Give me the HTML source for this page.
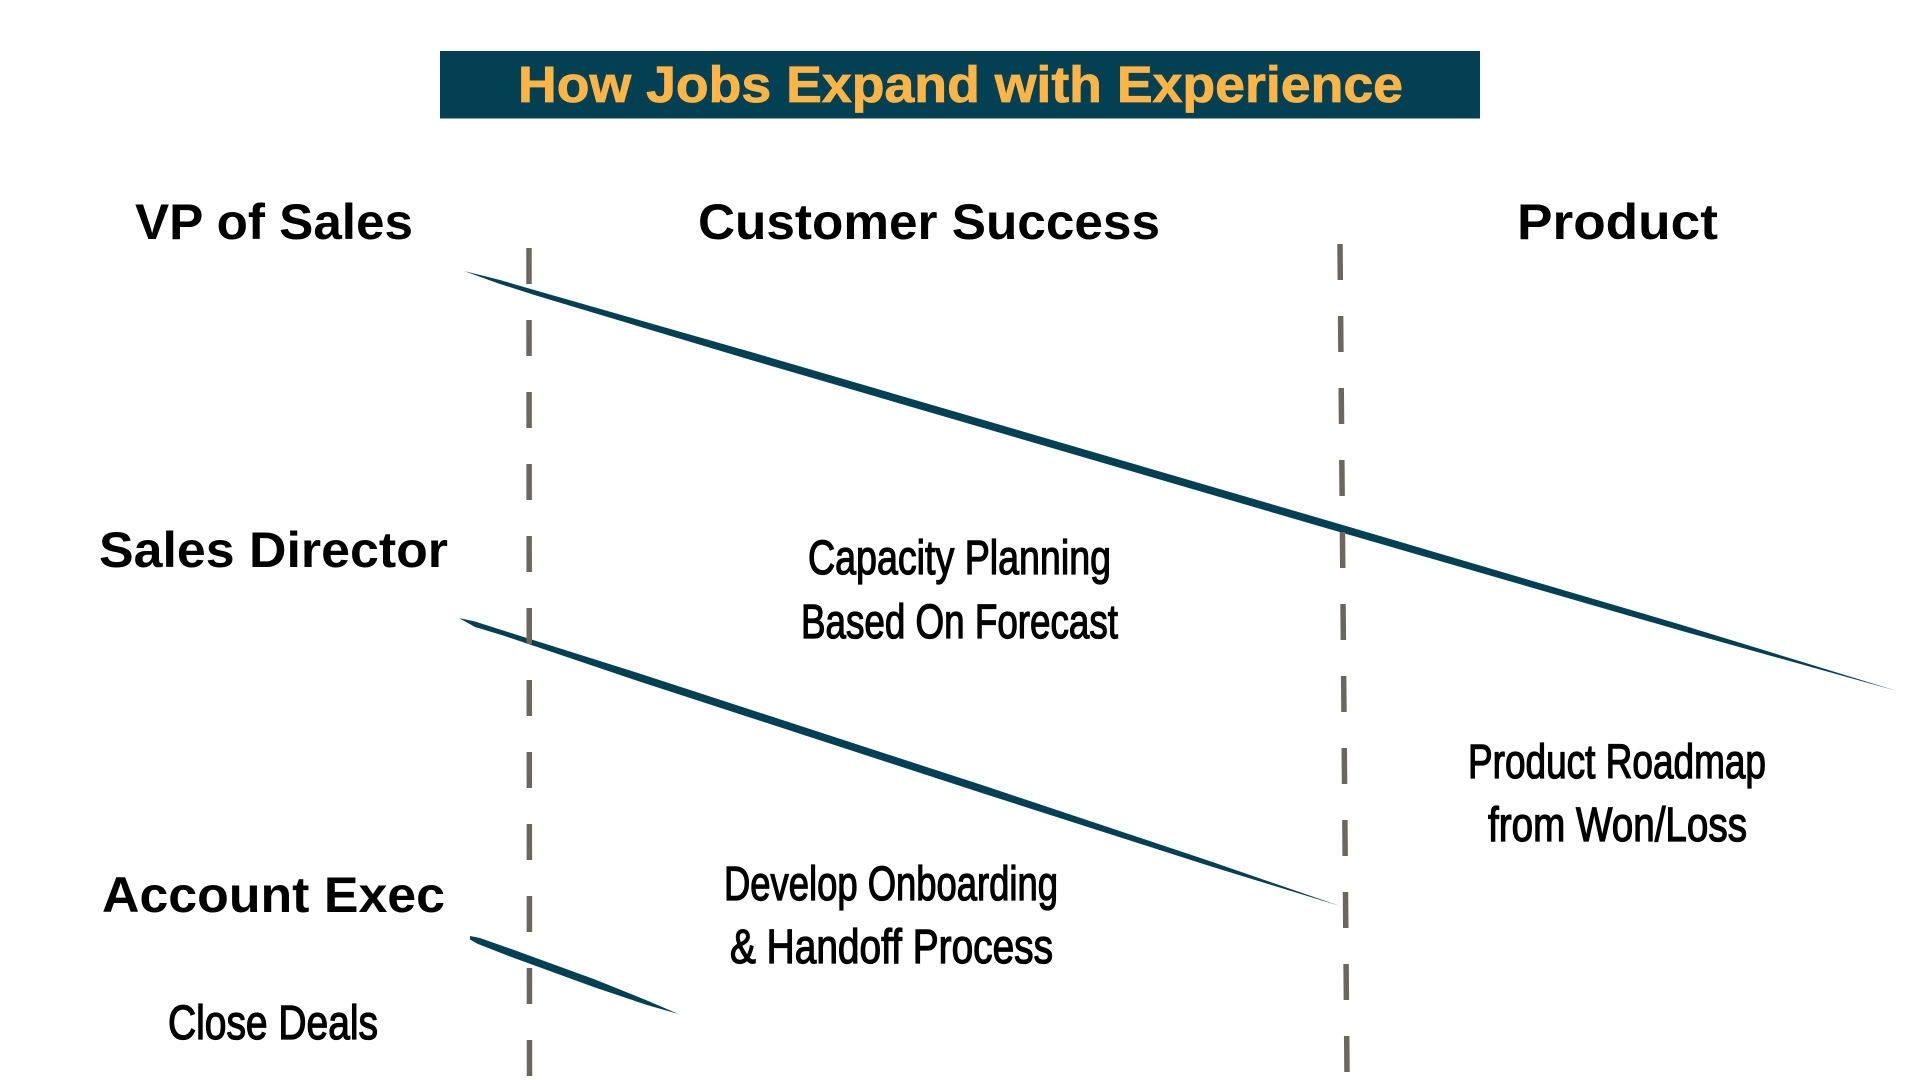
<!DOCTYPE html>
<html><head><meta charset="utf-8"><title>How Jobs Expand with Experience</title>
<style>html,body{margin:0;padding:0;background:#fff;width:1920px;height:1080px;overflow:hidden}
svg{display:block}
.h{font:bold 50px "Liberation Sans",sans-serif;fill:#000}
.s{font:48px "Liberation Sans",sans-serif;fill:#000;stroke:#000;stroke-width:1.3}
</style></head><body>
<svg width="1920" height="1080" viewBox="0 0 1920 1080" xmlns="http://www.w3.org/2000/svg">
<rect x="440" y="51" width="1040" height="67.5" fill="#034054"/>
<text x="518" y="102" textLength="885" lengthAdjust="spacingAndGlyphs" font-family="Liberation Sans, sans-serif" font-weight="bold" font-size="51" fill="#FEB546" stroke="#FEB546" stroke-width=".8">How Jobs Expand with Experience</text>
<text class="h" x="135" y="239" textLength="278" lengthAdjust="spacingAndGlyphs">VP of Sales</text>
<text class="h" x="698" y="239" textLength="462" lengthAdjust="spacingAndGlyphs">Customer Success</text>
<text class="h" x="1517" y="239" textLength="201" lengthAdjust="spacingAndGlyphs">Product</text>
<text class="h" x="99" y="567" textLength="349" lengthAdjust="spacingAndGlyphs">Sales Director</text>
<text class="h" x="102" y="912" textLength="343" lengthAdjust="spacingAndGlyphs">Account Exec</text>
<polygon fill="#034054" points="464,271 500,280 536,290.5 751,352 1324,519.5 1682,625 1897,691 1682,631 1324,527.5 751,360 536,295.5 500,284"/>
<polygon fill="#034054" points="459,618 475,621.5 504,630.8 636,672.4 988,787 1208,860.5 1340,906 1208,865.5 988,795 636,680.4 504,635.8 475,627"/>
<polygon fill="#034054" points="470,936 480,938 512,949.3 595,979.5 647,1000.5 678.5,1014 647,1005 595,987.5 512,957.3 478,944 470,939.5"/>
<line x1="529" y1="248" x2="529.5" y2="1080" stroke="#6b675f" stroke-width="5.5" stroke-dasharray="36 36"/>
<line x1="1340" y1="244" x2="1347" y2="1073" stroke="#6b675f" stroke-width="5.5" stroke-dasharray="36 36"/>
<text class="s" x="808" y="574" textLength="303" lengthAdjust="spacingAndGlyphs">Capacity Planning</text>
<text class="s" x="801" y="638" textLength="317" lengthAdjust="spacingAndGlyphs">Based On Forecast</text>
<text class="s" x="724" y="900" textLength="334" lengthAdjust="spacingAndGlyphs">Develop Onboarding</text>
<text class="s" x="730" y="963" textLength="323" lengthAdjust="spacingAndGlyphs">&amp; Handoff Process</text>
<text class="s" x="168" y="1039" textLength="210" lengthAdjust="spacingAndGlyphs">Close Deals</text>
<text class="s" x="1468" y="778" textLength="298" lengthAdjust="spacingAndGlyphs">Product Roadmap</text>
<text class="s" x="1488" y="841" textLength="259" lengthAdjust="spacingAndGlyphs">from Won/Loss</text>
</svg>
</body></html>
